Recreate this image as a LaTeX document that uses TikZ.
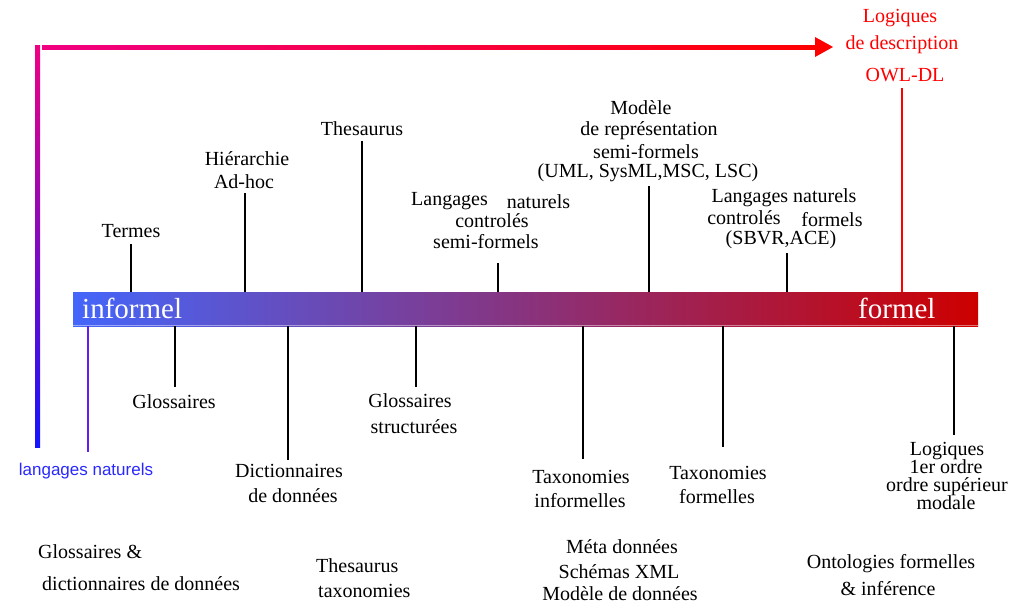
\documentclass[tikz,border=0pt]{standalone}
\usepackage{fontspec}
\setmainfont{Liberation Serif}
\newfontfamily\labsans{Liberation Sans}
\definecolor{barL}{RGB}{68,102,250}
\definecolor{barM}{RGB}{140,40,125}
\definecolor{barR}{RGB}{205,0,0}
\definecolor{magC}{RGB}{240,0,130}
\definecolor{bluC}{RGB}{20,20,255}
\definecolor{stickBlue}{RGB}{100,30,240}
\definecolor{txtBlue}{RGB}{40,40,255}
\definecolor{arrRed}{RGB}{255,0,0}
\begin{document}
\begin{tikzpicture}[x=1pt,y=-1pt,
  lab/.style={font=\fontsize{20}{24}\selectfont, text=black, inner sep=0, anchor=base},
  labw/.style={lab, anchor=base west},
  redlab/.style={lab, text=arrRed},
  stick/.style={line width=1.8pt, black},
  bigw/.style={font=\fontsize{29}{29}\selectfont, text=white, inner sep=0, anchor=base west}
]
\useasboundingbox (0,0) rectangle (1018,606);

% axis bar
\node[minimum width=905pt, minimum height=34pt, inner sep=0, left color=barL, middle color=barM, right color=barR, draw=none] (bar) at (525.5,309) {};
\draw[white, opacity=0.45, line width=1pt] (73,325.5) -- (978,325.5);
\node[bigw] (inf) at (82,318) {informel};
\node[bigw] (form) at (858,318) {formel};

% left vertical and top arrow
\fill[top color=magC, bottom color=bluC] (35,45) rectangle (40,447);
\fill[left color=magC, right color=arrRed] (42,45) rectangle (816,49);
\fill[arrRed] (815,37) -- (833,47) -- (815,57) -- cycle;

% red labels
\node[redlab] (dl1) at (900,22) {Logiques};
\node[redlab] (dl2) at (902,49) {de description};
\node[redlab] (dl3) at (905,81) {OWL-DL};
\draw[arrRed, line width=2pt] (902,88) -- (902,292);

% blue label
\draw[stickBlue, line width=1.6pt] (88,326) -- (88,452);
\node[inner sep=0, anchor=base, font=\labsans\fontsize{17}{20}\selectfont, text=txtBlue] (ln) at (86,475) {langages naturels};

% upper labels
\node[lab] (termes) at (131,237) {Termes};
\draw[stick] (131,292) -- (131,244);

\node[lab] (hier1) at (247,165) {Hiérarchie};
\node[lab] (hier2) at (244,188) {Ad-hoc};
\draw[stick] (245,292) -- (245,193);

\node[lab] (thes) at (362,135) {Thesaurus};
\draw[stick] (362,292) -- (362,141);

\node[lab] (lang1) at (449.5,205) {Langages};
\node[lab] (lang2) at (538.5,208) {naturels};
\node[lab] (lang3) at (492,227) {controlés};
\node[lab] (lang4) at (486,248) {semi-formels};
\draw[stick] (498,292) -- (498,263);

\node[lab] (mod1) at (641,114) {Modèle};
\node[lab] (mod2) at (649,135) {de représentation};
\node[lab] (mod3) at (646,158) {semi-formels};
\node[lab] (mod4) at (648,177) {(UML, SysML,MSC, LSC)};
\draw[stick] (649,292) -- (649,186);

\node[lab] (lf1) at (784,202) {Langages naturels};
\node[lab] (lf2) at (744,224) {controlés};
\node[lab] (lf3) at (832,226) {formels};
\node[lab] (lf4) at (781,244) {(SBVR,ACE)};
\draw[stick] (787,292) -- (787,253);

% lower labels
\node[lab] (glo) at (174,408) {Glossaires};
\draw[stick] (175,326) -- (175,387);

\node[lab] (dic1) at (289,477) {Dictionnaires};
\node[lab] (dic2) at (293,502) {de données};
\draw[stick] (288,326) -- (288,460);

\node[lab] (gs1) at (410,407) {Glossaires};
\node[lab] (gs2) at (414,433) {structurées};
\draw[stick] (416,326) -- (416,387);

\node[lab] (ti1) at (581,483) {Taxonomies};
\node[lab] (ti2) at (580,507) {informelles};
\draw[stick] (583,326) -- (583,459);

\node[lab] (tf1) at (718,479) {Taxonomies};
\node[lab] (tf2) at (717,503) {formelles};
\draw[stick] (723,326) -- (723,447);

\node[lab] (lo1) at (947,455) {Logiques};
\node[lab] (lo2) at (946,473) {1er ordre};
\node[lab] (lo3) at (947,491) {ordre supérieur};
\node[lab] (lo4) at (946,509) {modale};
\draw[stick] (954,326) -- (954,435);

% bottom categories
\node[labw] (b1) at (38,558) {Glossaires \&};
\node[labw] (b2) at (42,590) {dictionnaires de données};
\node[labw] (c1) at (316,572) {Thesaurus};
\node[labw] (c2) at (318,597) {taxonomies};
\node[lab] (d1) at (622,553) {Méta données};
\node[lab] (d2) at (619,578) {Schémas XML};
\node[lab] (d3) at (620,600) {Modèle de données};
\node[lab] (e1) at (891,568) {Ontologies formelles};
\node[lab] (e2) at (888,595) {\& inférence};
\end{tikzpicture}
\end{document}
